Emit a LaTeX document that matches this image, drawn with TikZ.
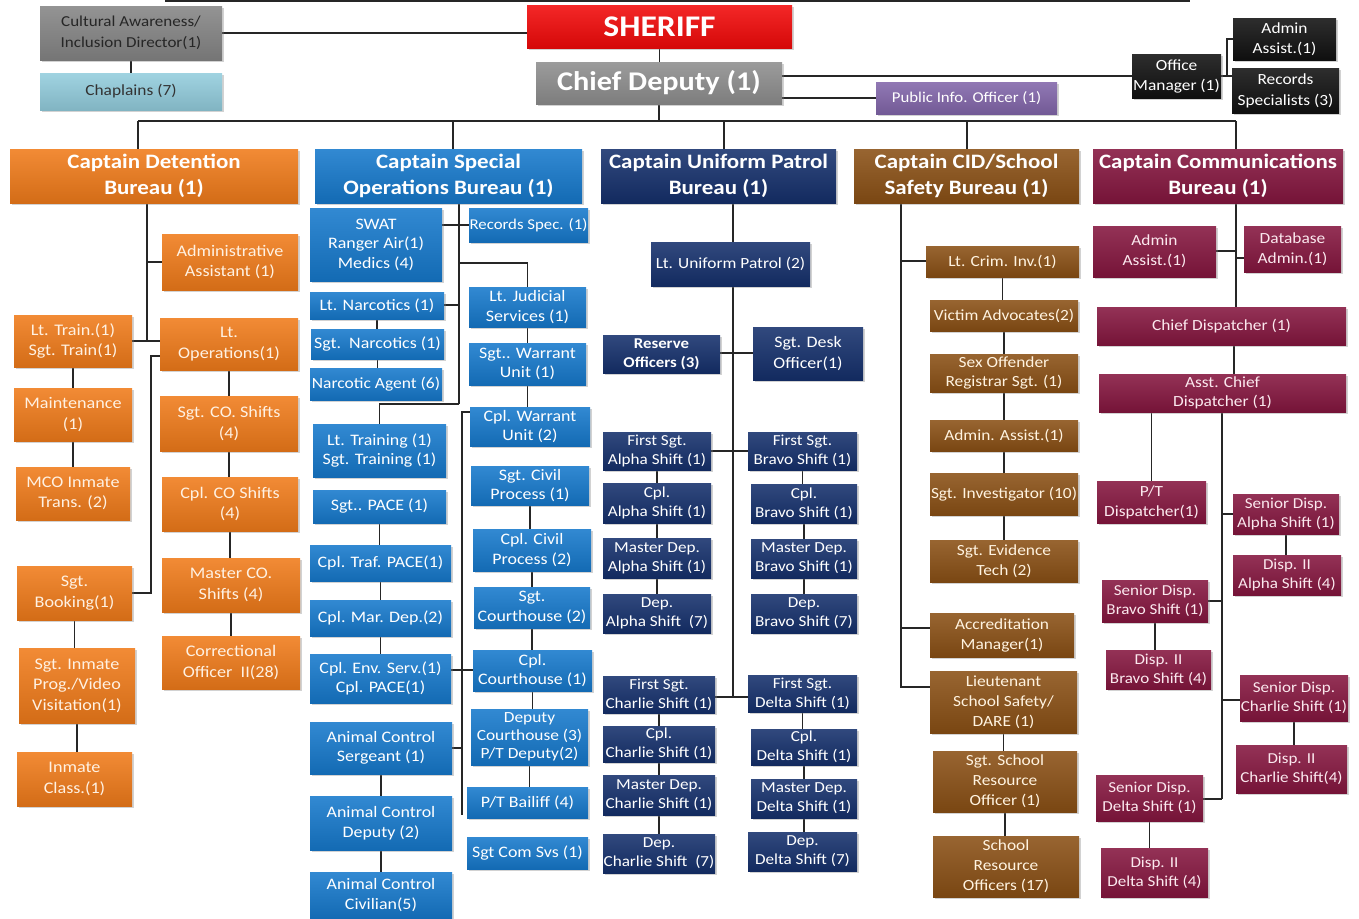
\documentclass[tikz,border=0pt]{standalone}
\usepackage{fontspec}
\setmainfont{Carlito}[FakeStretch=1.12]
\usetikzlibrary{shadows,backgrounds}
\pgfdeclarelayer{bottom}
\pgfsetlayers{bottom,background,main}
\definecolor{orng}{HTML}{F07B1A}
\definecolor{orngtxt}{HTML}{FFF1E2}
\definecolor{blu}{HTML}{1679CC}
\definecolor{navy}{HTML}{15306C}
\definecolor{brwn}{HTML}{8A5015}
\definecolor{brwntxt}{HTML}{FFF3E0}
\definecolor{maro}{HTML}{85163F}
\definecolor{marotxt}{HTML}{FBE8EE}
\definecolor{gry}{HTML}{858585}
\definecolor{gry2}{HTML}{8E8E8E}
\definecolor{chap}{HTML}{93CDDD}
\definecolor{purp}{HTML}{8266AA}
\definecolor{blk}{HTML}{111111}
\definecolor{shred}{HTML}{F20A0A}
\definecolor{lnc}{HTML}{262626}
\newcommand{\obox}[7]{\node[#6, minimum width={(#4)-(#2)}, minimum height={(#5)-(#3)}] (#1) at ({((#2)+(#4))/2},{((#3)+(#5))/2}) {#7};}
\newcommand{\vlink}[2]{\draw (#1.south) -- (#1.south |- #2.north);}
\tikzset{
  obx/.style={top color=#1!88!white, middle color=#1, bottom color=#1!88!black,
    draw=none, text=white, align=center, inner sep=0pt,
    drop shadow={opacity=0.35, shadow xshift=1.6pt, shadow yshift=-1.6pt}},
  hdr/.style={obx=#1, font=\bfseries\fontsize{20.5}{26}\selectfont},
  detb/.style={obx=orng, text=orngtxt, font=\fontsize{16.2}{20.5}\selectfont},
  spob/.style={obx=blu, font=\fontsize{16}{19.5}\selectfont},
  unfb/.style={obx=navy, font=\fontsize{15.3}{19}\selectfont},
  cidb/.style={obx=brwn, text=brwntxt, font=\fontsize{15.5}{20}\selectfont},
  comb/.style={obx=maro, text=marotxt, font=\fontsize{15.5}{20}\selectfont},
  comc/.style={comb, font=\fontsize{15.2}{19}\selectfont},
  conn/.style={draw=lnc, line width=1.3pt},
}
\begin{document}
\begin{tikzpicture}[x=1pt, y=-1pt]
\useasboundingbox (0,0) rectangle (1359,918);
\begin{pgfonlayer}{bottom}
\fill[white] (0,0) rectangle (1359,918);
\end{pgfonlayer}
% ---------- top ----------
\obox{cult}{40}{6}{222}{60}{obx=gry, text=black!85, font=\fontsize{15.2}{21}\selectfont}{Cultural Awareness/\\Inclusion Director(1)}
\obox{chap}{40}{73}{222}{110}{obx=chap, text=black!80, font=\fontsize{15.5}{18}\selectfont}{Chaplains (7)}
\obox{sheriff}{527}{5}{792}{48}{obx=shred, font=\bfseries\fontsize{30}{32}\selectfont}{SHERIFF}
\obox{chief}{536}{62}{782}{104}{obx=gry2, font=\bfseries\fontsize{27}{30}\selectfont}{Chief Deputy (1)}
\obox{pio}{876}{82}{1057}{114}{obx=purp, font=\fontsize{15}{18}\selectfont}{Public Info. Officer (1)}
\obox{om}{1132}{54}{1221}{98}{obx=blk, font=\fontsize{15.5}{20}\selectfont}{Office\\Manager (1)}
\obox{aa0}{1233}{18}{1336}{60}{obx=blk, font=\fontsize{15.5}{20}\selectfont}{Admin\\Assist.(1)}
\obox{rs}{1232}{68}{1339}{113}{obx=blk, font=\fontsize{15.5}{21}\selectfont}{Records\\Specialists (3)}
% ---------- bureau headers ----------
\obox{det}{10}{149}{298}{203}{hdr=orng}{Captain Detention\\Bureau (1)}
\obox{spo}{315}{149}{582}{203}{hdr=blu}{Captain Special\\Operations Bureau (1)}
\obox{unif}{601}{149}{836}{203}{hdr=navy}{Captain Uniform Patrol\\Bureau (1)}
\obox{cid}{854}{149}{1079}{203}{hdr=brwn}{Captain CID/School\\Safety Bureau (1)}
\obox{com}{1093}{149}{1343}{203}{hdr=maro}{Captain Communications\\Bureau (1)}
% ---------- detention ----------
\obox{adm}{162}{234}{298}{290}{detb}{Administrative\\Assistant (1)}
\obox{lttr}{14}{315}{132}{367}{detb}{Lt. Train.(1)\\Sgt. Train(1)}
\obox{ltop}{160}{318}{298}{370}{detb}{Lt.\\Operations(1)}
\obox{maint}{14}{388}{132}{441}{detb}{Maintenance\\(1)}
\obox{mco}{16}{467}{130}{520}{detb}{MCO Inmate\\Trans. (2)}
\obox{sgtco}{160}{396}{298}{451}{detb}{Sgt. CO. Shifts\\(4)}
\obox{cplco}{162}{477}{298}{531}{detb}{Cpl. CO Shifts\\(4)}
\obox{mastco}{162}{558}{300}{612}{detb}{Master CO.\\Shifts (4)}
\obox{coii}{162}{636}{300}{689}{detb}{Correctional\\Officer\ \ II(28)}
\obox{sgtb}{17}{566}{132}{620}{detb}{Sgt.\\Booking(1)}
\obox{inmp}{19}{648}{135}{723}{detb}{Sgt. Inmate\\Prog./Video\\Visitation(1)}
\obox{inmc}{17}{752}{132}{806}{detb}{Inmate\\Class.(1)}
% ---------- special operations ----------
\obox{swat}{310}{208}{442}{281}{spob}{SWAT\\Ranger Air(1)\\Medics (4)}
\obox{recs}{469}{208}{588}{242}{spob, font=\fontsize{15}{18}\selectfont}{Records Spec. (1)}
\obox{ltnar}{310}{292}{444}{319}{spob}{Lt. Narcotics (1)}
\obox{sgtnar}{311}{329}{444}{359}{spob}{Sgt.\ \ Narcotics (1)}
\obox{nag}{310}{368}{442}{400}{spob, font=\fontsize{15.6}{18}\selectfont}{Narcotic Agent (6)}
\obox{ltjud}{469}{287}{586}{327}{spob}{Lt. Judicial\\Services (1)}
\obox{sgtw}{469}{343}{586}{385}{spob}{Sgt.. Warrant\\Unit (1)}
\obox{cplw}{470}{407}{590}{446}{spob}{Cpl. Warrant\\Unit (2)}
\obox{lttrn}{313}{424}{446}{477}{spob}{Lt. Training (1)\\Sgt. Training (1)}
\obox{sgtciv}{471}{466}{589}{505}{spob}{Sgt. Civil\\Process (1)}
\obox{sgtpace}{313}{490}{446}{523}{spob}{Sgt.. PACE (1)}
\obox{cplciv}{473}{529}{591}{571}{spob}{Cpl. Civil\\Process (2)}
\obox{ctraf}{310}{545}{451}{581}{spob}{Cpl. Traf. PACE(1)}
\obox{sgtcth}{474}{587}{590}{628}{spob}{Sgt.\\Courthouse (2)}
\obox{cmar}{310}{600}{451}{636}{spob}{Cpl. Mar. Dep.(2)}
\obox{cenv}{310}{654}{451}{703}{spob}{Cpl. Env. Serv.(1)\\Cpl. PACE(1)}
\obox{ccth}{473}{650}{592}{691}{spob}{Cpl.\\Courthouse (1)}
\obox{depcth}{471}{709}{588}{765}{spob, font=\fontsize{15.5}{18}\selectfont}{Deputy\\Courthouse (3)\\P/T Deputy(2)}
\obox{acs}{310}{722}{452}{774}{spob}{Animal Control\\Sergeant (1)}
\obox{ptb}{467}{787}{588}{818}{spob}{P/T Bailiff (4)}
\obox{acd}{310}{796}{452}{850}{spob}{Animal Control\\Deputy (2)}
\obox{scs}{467}{837}{588}{869}{spob}{Sgt Com Svs (1)}
\obox{acc}{310}{872}{452}{918}{spob}{Animal Control\\Civilian(5)}
% ---------- uniform patrol ----------
\obox{ltup}{651}{242}{810}{286}{unfb, font=\fontsize{15.5}{19}\selectfont}{Lt. Uniform Patrol (2)}
\obox{res}{603}{335}{720}{373}{unfb, font=\bfseries\fontsize{15}{19}\selectfont}{Reserve\\Officers (3)}
\obox{desk}{753}{327}{863}{380}{unfb, font=\fontsize{16}{20.5}\selectfont}{Sgt. Desk\\Officer(1)}
\obox{fa}{603}{432}{711}{470}{unfb}{First Sgt.\\Alpha Shift (1)}
\obox{fb}{748}{432}{857}{470}{unfb}{First Sgt.\\Bravo Shift (1)}
\obox{ca}{603}{483}{711}{523}{unfb}{Cpl.\\Alpha Shift (1)}
\obox{cb}{751}{484}{857}{523}{unfb}{Cpl.\\Bravo Shift (1)}
\obox{ma}{603}{538}{711}{578}{unfb}{Master Dep.\\Alpha Shift (1)}
\obox{mb}{751}{539}{857}{578}{unfb}{Master Dep.\\Bravo Shift (1)}
\obox{da}{603}{594}{711}{633}{unfb}{Dep.\\Alpha Shift\ \ (7)}
\obox{db}{751}{594}{857}{633}{unfb}{Dep.\\Bravo Shift (7)}
\obox{fc}{603}{676}{715}{713}{unfb}{First Sgt.\\Charlie Shift (1)}
\obox{fd}{748}{675}{857}{712}{unfb}{First Sgt.\\Delta Shift (1)}
\obox{cc}{603}{726}{715}{762}{unfb}{Cpl.\\Charlie Shift (1)}
\obox{cd}{751}{729}{857}{765}{unfb}{Cpl.\\Delta Shift (1)}
\obox{mc}{603}{775}{715}{815}{unfb}{Master Dep.\\Charlie Shift (1)}
\obox{md}{751}{779}{857}{818}{unfb}{Master Dep.\\Delta Shift (1)}
\obox{dc}{603}{834}{715}{873}{unfb}{Dep.\\Charlie Shift\ \ (7)}
\obox{dd}{748}{832}{857}{871}{unfb}{Dep.\\Delta Shift (7)}
% ---------- CID ----------
\obox{lci}{926}{246}{1079}{277}{cidb}{Lt. Crim. Inv.(1)}
\obox{va}{930}{300}{1078}{331}{cidb}{Victim Advocates(2)}
\obox{sex}{930}{354}{1078}{392}{cidb, font=\fontsize{15.5}{19}\selectfont}{Sex Offender\\Registrar Sgt. (1)}
\obox{adm2}{930}{420}{1078}{451}{cidb}{Admin. Assist.(1)}
\obox{sinv}{930}{473}{1078}{515}{cidb}{Sgt. Investigator (10)}
\obox{sev}{930}{540}{1078}{582}{cidb}{Sgt. Evidence\\Tech (2)}
\obox{accr}{930}{613}{1074}{657}{cidb}{Accreditation\\Manager(1)}
\obox{ltss}{930}{671}{1077}{733}{cidb}{Lieutenant\\School Safety/\\DARE (1)}
\obox{ssro}{933}{751}{1077}{812}{cidb}{Sgt. School\\Resource\\Officer (1)}
\obox{sro}{933}{836}{1079}{897}{cidb}{School\\Resource\\Officers (17)}
% ---------- communications ----------
\obox{ad3}{1093}{226}{1216}{277}{comb}{Admin\\Assist.(1)}
\obox{dba}{1244}{226}{1341}{272}{comb}{Database\\Admin.(1)}
\obox{chd}{1097}{307}{1346}{345}{comb}{Chief Dispatcher (1)}
\obox{acdis}{1099}{374}{1346}{412}{comb, font=\fontsize{15.5}{19}\selectfont}{Asst. Chief\\Dispatcher (1)}
\obox{ptd}{1097}{481}{1206}{523}{comb}{P/T\\Dispatcher(1)}
\obox{sda}{1233}{494}{1339}{534}{comc}{Senior Disp.\\Alpha Shift (1)}
\obox{dia}{1233}{555}{1341}{595}{comc}{Disp. II\\Alpha Shift (4)}
\obox{sdb}{1102}{580}{1208}{622}{comc}{Senior Disp.\\Bravo Shift (1)}
\obox{dib}{1106}{650}{1211}{689}{comc}{Disp. II\\Bravo Shift (4)}
\obox{sdc}{1240}{675}{1348}{721}{comc}{Senior Disp.\\Charlie Shift (1)}
\obox{dic}{1236}{745}{1347}{793}{comc}{Disp. II\\Charlie Shift(4)}
\obox{sdd}{1096}{775}{1203}{821}{comc}{Senior Disp.\\Delta Shift (1)}
\obox{did}{1101}{848}{1208}{897}{comc}{Disp. II\\Delta Shift (4)}
% ================= connectors =================
\begin{pgfonlayer}{background}
\begin{scope}[conn]
% top
\coordinate (topL) at (165,1); \coordinate (topR) at (1190,1);
\draw (topL) -- (topR);
\draw (cult.east) -- (cult.east -| sheriff.west);
\draw (cult.south) -- (chap.north);
\draw (sheriff.south) -- (sheriff.south |- chief.north);
\draw (chief.east |- om.west) -- (om.west);
\draw (chief.east |- pio.west) -- (pio.west);
\coordinate (omj) at (1227,76);
\draw (om.east |- omj) -- (omj);
\draw (omj) |- (aa0.west);
\draw (omj) -- (omj -| rs.west);
% bus
\coordinate (b1) at (138,121); \coordinate (b2) at (453,121); \coordinate (b3) at (724,121);
\coordinate (b4) at (967,121); \coordinate (b5) at (1236,121);
\draw (chief.south) -- (chief.south |- b3);
\draw (b1) -- (b5);
\draw (b1) -- (b1 |- det.north);
\draw (b2) -- (b2 |- spo.north);
\draw (b3) -- (b3 |- unif.north);
\draw (b4) -- (b4 |- cid.north);
\draw (b5) -- (b5 |- com.north);
% detention
\coordinate (dA) at (147,262); \coordinate (dB) at (147,341);
\coordinate (dC) at (151,356); \coordinate (dD) at (151,593);
\draw (det.south -| dA) -- (dB);
\draw (dA) -- (adm.west |- dA);
\draw (lttr.east |- dB) -- (ltop.west |- dB);
\draw (ltop.west |- dC) -- (dC) -- (dD) -- (sgtb.east |- dD);
\vlink{lttr}{maint} \vlink{maint}{mco}
\vlink{ltop}{sgtco} \vlink{sgtco}{cplco} \vlink{cplco}{mastco} \vlink{mastco}{coii}
\vlink{sgtb}{inmp} \vlink{inmp}{inmc}
% special operations
\coordinate (s1) at (459,225); \coordinate (s2) at (459,263);
\coordinate (s3) at (459,305); \coordinate (s4) at (459,404);
\draw (spo.south -| s1) -- (s4);
\draw (swat.east |- s1) -- (recs.west |- s1);
\draw (s2) -- (s2 -| ltjud.north) -- (ltjud.north);
\draw (ltnar.east |- s3) -- (s3);
\draw (s4) -- (s4 -| lttrn.north) -- (lttrn.north);
\coordinate (s5) at (462,412); \coordinate (s6) at (462,670);
\coordinate (s7) at (462,748); \coordinate (s8) at (462,815);
\draw (cplw.west |- s5) -- (s5) -- (s8);
\draw (cenv.east |- s6) -- (ccth.west |- s6);
\draw (acs.east |- s7) -- (s7);
\vlink{ltnar}{sgtnar} \vlink{sgtnar}{nag}
\vlink{sgtpace}{ctraf} \vlink{ctraf}{cmar} \vlink{cmar}{cenv}
\vlink{acs}{acd} \vlink{acd}{acc}
\vlink{ltjud}{sgtw} \vlink{sgtw}{cplw}
\vlink{sgtciv}{cplciv} \vlink{cplciv}{sgtcth} \vlink{sgtcth}{ccth} \vlink{ccth}{depcth} \vlink{depcth}{ptb}
% uniform patrol
\coordinate (u0) at (733,203);
\draw (u0) -- (u0 |- ltup.north);
\coordinate (u1) at (733,353); \coordinate (u2) at (733,451); \coordinate (u3) at (733,697);
\draw (ltup.south -| u1) -- (u3);
\draw (res.east |- u1) -- (desk.west |- u1);
\draw (fa.east |- u2) -- (fb.west |- u2);
\draw (fc.east |- u3) -- (fd.west |- u3);
\vlink{fa}{ca} \vlink{ca}{ma} \vlink{ma}{da}
\vlink{fb}{cb} \vlink{cb}{mb} \vlink{mb}{db}
\vlink{fc}{cc} \vlink{cc}{mc} \vlink{mc}{dc}
\vlink{fd}{cd} \vlink{cd}{md} \vlink{md}{dd}
% CID
\coordinate (c1) at (901,261); \coordinate (c2) at (901,628); \coordinate (c3) at (901,687);
\draw (cid.south -| c1) -- (c3) -- (ltss.west |- c3);
\draw (c1) -- (lci.west |- c1);
\draw (c2) -- (accr.west |- c2);
\vlink{lci}{va} \vlink{va}{sex} \vlink{sex}{adm2} \vlink{adm2}{sinv} \vlink{sinv}{sev}
\vlink{ltss}{ssro} \vlink{ssro}{sro}
% communications
\coordinate (m1) at (1236,251); \coordinate (m2) at (1236,258);
\draw (com.south -| m1) -- (m1 |- chd.north);
\draw (ad3.east |- m1) -- (m1);
\draw (m2) -- (dba.west |- m2);
\coordinate (m3) at (1234,345);
\draw (m3) -- (m3 |- acdis.north);
\draw (ptd.north |- acdis.south) -- (ptd.north);
\coordinate (k1) at (1222,514); \coordinate (k2) at (1222,601);
\coordinate (k3) at (1222,700); \coordinate (k4) at (1222,799);
\draw (acdis.south -| k1) -- (k4);
\draw (k1) -- (sda.west |- k1);
\draw (sdb.east |- k2) -- (k2);
\draw (k3) -- (sdc.west |- k3);
\draw (sdd.east |- k4) -- (k4);
\vlink{sda}{dia} \vlink{sdb}{dib} \vlink{sdc}{dic} \vlink{sdd}{did}
\end{scope}
\end{pgfonlayer}
\end{tikzpicture}
\end{document}
